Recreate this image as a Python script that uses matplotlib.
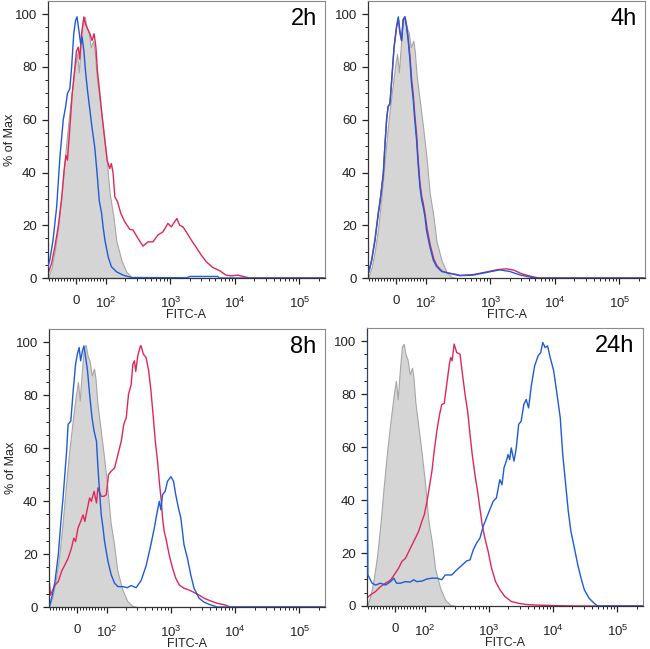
"""Four-panel FITC-A flow cytometry histograms (2h, 4h, 8h, 24h)."""

import matplotlib

matplotlib.use("Agg")

import matplotlib.pyplot as plt
from matplotlib.ticker import FixedLocator, NullFormatter

plt.rcParams["font.family"] = ["Liberation Sans", "DejaVu Sans"]
plt.rcParams["mathtext.fontset"] = "custom"
plt.rcParams["mathtext.rm"] = "Liberation Sans"
plt.rcParams["mathtext.it"] = "Liberation Sans:italic"

# unstained control, same in every panel
GRAY_X = [-92, -81, -70, -59, -48, -37, -26, -14, -3, 4, 10, 17, 24, 30, 36, 43, 50,
          58, 63, 69, 80, 91, 102, 115, 130, 146, 175, 209, 250, 300]
GRAY_Y = [0.4, 4, 10.5, 19, 31, 45, 58, 70, 80, 85, 78, 89, 98, 99, 95, 93, 87.5,
          90, 86, 77, 67, 57, 46, 32, 24, 14, 6.7, 2.3, 0.4, 0]

# 2h
H2_RED_X = [-92, -81, -70, -59, -48, -39, -33, -28, -20, -12, -3, 2, 8, 13, 19, 27, 32,
            39, 47, 54, 61, 67, 72, 80, 88, 97, 105, 115, 122, 130, 138, 152, 171, 197,
            235, 264, 316, 377, 450, 538, 643, 769, 918, 1035, 1166, 1268, 1394, 1570,
            1768, 2112, 2525, 3016, 3600, 4570, 5800, 7330, 8740, 11100, 14000, 17000,
            250000]
H2_RED_Y = [1.8, 5.6, 11.9, 19.4, 29.5, 41, 46.5, 44.7, 57, 70, 80, 86, 87.5, 83, 92.6,
            99, 96.4, 94.5, 92.6, 90, 92.6, 87.5, 78.7, 70, 61, 52, 44.7, 41.5, 43.4,
            39.6, 30.8, 28.9, 24.5, 21.3, 18.5, 18.2, 15, 12.1, 13.7, 13.7, 16.3, 17.5,
            20.7, 19.4, 21.3, 22.6, 20, 19.4, 17.5, 14.4, 11.6, 8.7, 6.2, 4, 2.8, 1.1,
            0.8, 1.1, 0.5, 0, 0]
H2_BLUE_X = [-94, -87, -76, -64, -53, -42, -34, -28, -20, -14, -7, -1, 4, 10, 16, 21,
             27, 32, 39, 47, 54, 63, 71, 78, 86, 91, 97, 109, 122, 146, 185, 250, 1800,
             2000, 5400, 5800, 250000]
H2_BLUE_Y = [3.7, 6.8, 14.4, 27, 46, 60, 65, 70, 71.8, 80, 92.6, 97.6, 99, 94, 88.8,
             91.3, 86, 78.7, 71, 63.6, 57, 49.7, 39.6, 29.5, 24.5, 19.4, 14.4, 8, 4.3,
             2.4, 1.1, 0.2, 0.1, 0.6, 0.6, 0, 0]

# 4h
H4_RED_X = [-90, -81, -70, -59, -51, -42, -37, -31, -26, -20, -14, -6, 2, 8, 13, 19, 24,
            30, 36, 41, 47, 52, 58, 63, 69, 74, 80, 86, 91, 97, 104, 117, 133, 149, 178,
            224, 303, 340, 540, 870, 1300, 1770, 2300, 3000, 4300, 5760, 250000]
H4_RED_Y = [2.3, 6.5, 14, 24, 30.5, 39.5, 49.5, 60, 65, 66, 75, 87.6, 95, 98.5, 93,
            90, 98, 99, 95.5, 91, 84, 76, 69.5, 62, 54.5, 45.5, 36.5, 31, 28.5, 24.5,
            19, 12.5, 7.2, 4.6, 2.6, 1.9, 1.3, 1, 1.3, 2.3, 3.2, 3.5, 3, 1.7, 0.6, 0, 0]
H4_BLUE_X = [-90, -81, -70, -59, -51, -42, -37, -31, -26, -20, -14, -6, 2, 8, 13, 19,
             24, 30, 36, 41, 47, 52, 58, 63, 69, 74, 80, 86, 91, 97, 102, 115, 130, 146,
             175, 220, 298, 335, 538, 866, 1390, 1990, 2840, 4050, 5140, 250000]
H4_BLUE_Y = [2.5, 6.9, 14.5, 24.6, 30.9, 39.7, 49.8, 60, 65, 66, 75, 87.6, 95, 99, 94,
             90, 97.7, 99, 95, 90, 82.5, 73.8, 67.5, 60, 52.3, 43.5, 34.7, 29.6, 27,
             23.3, 18.3, 12, 6.9, 4.4, 2.5, 1.9, 1.2, 0.9, 1.1, 2.1, 3.1, 2.5, 1.2, 0.4,
             0, 0]

# 8h
H8_RED_X = [-93, -88, -73, -62, -51, -40, -29, -18, -10, -4, 4, 13, 21, 27, 36, 43, 49,
            58, 66, 71, 82, 91, 99, 107, 118, 133, 150, 169, 185, 202, 219, 241, 256,
            271, 284, 305, 335, 344, 373, 411, 451, 490, 533, 572, 620, 660, 709, 741,
            787, 856, 940, 1060, 1190, 1350, 1600, 1920, 2290, 2750, 3300, 4150, 5280,
            6910, 8300, 250000]
H8_RED_Y = [11, 4.5, 8.3, 9.6, 13.4, 15.9, 18.4, 22.2, 26, 24.7, 29.8, 32.3, 34.8, 32.3,
            37.4, 41.2, 39.9, 43.7, 39.3, 45, 41.8, 41.8, 42.4, 50, 51.3, 52.5, 57.6,
            62.6, 69, 71.5, 80.3, 84.1, 91.7, 93, 89, 94.8, 98.6, 98.6, 95.5, 94.2,
            89.2, 81.6, 71.5, 62.6, 55, 47.5, 40, 33.6, 28.6, 24.8, 19.7, 14.7, 10.9,
            8.3, 7.1, 6.4, 5.5, 4.5, 3.3, 2.3, 1.4, 0.8, 0, 0]
H8_BLUE_X = [-90, -82, -73, -62, -53, -46, -40, -34, -29, -20, -12, -4, 2, 8, 13, 19, 24,
             30, 36, 43, 51, 58, 66, 71, 77, 82, 88, 93, 105, 118, 133, 150, 179, 209,
             241, 288, 344, 411, 478, 552, 600, 660, 700, 741, 815, 886, 1000, 1100,
             1190, 1310, 1430, 1600, 1810, 2040, 2290, 2750, 3300, 4150, 5280, 250000]
H8_BLUE_Y = [0.8, 4.5, 9.6, 19.7, 32.3, 41.2, 50, 58.9, 69, 70.2, 81.6, 91.7, 95.5, 98,
             93, 96.7, 98.6, 94.2, 89.2, 80.3, 71.5, 66.4, 62.6, 52.5, 42.4, 34.8, 29.8,
             24.8, 17.2, 12.1, 9, 7.7, 7.7, 7.3, 8.1, 7.3, 10, 15.5, 22.5, 29.8, 34.8,
             39.9, 36.7, 42.4, 43.7, 47.5, 49.2, 47.5, 42.4, 37.4, 33.6, 23.5, 18.4,
             12.1, 7.1, 3.3, 1.8, 0.8, 0, 0]

# 24h
H24_RED_X = [-92, -81, -64, -48, -31, -14, 2, 13, 24, 36, 47, 58, 69, 80, 91, 99, 109,
             118, 130, 141, 155, 171, 185, 202, 221, 243, 255, 268, 288, 316, 356, 377,
             426, 467, 509, 551, 607, 667, 725, 787, 867, 975, 1100, 1270, 1490, 1770,
             2230, 3030, 4040, 6500, 11800, 24000, 250000]
H24_RED_Y = [3.2, 4.2, 5.5, 7.3, 8.6, 9.8, 12.4, 14.3, 16.8, 18, 20.6, 23.1, 25.6, 28.2,
             32, 34.5, 39.5, 44.6, 50.9, 58.5, 66.1, 72.3, 76.1, 76.5, 83.7, 91.3, 93.8,
             92.6, 98.9, 95.7, 95.1, 90, 79.9, 73.6, 64.8, 57.2, 49.6, 43.3, 37, 30.7,
             25.6, 20.6, 14.3, 9.2, 6.1, 3.6, 1.7, 0.9, 0.5, 0.3, 0.1, 0, 0]
H24_BLUE_X = [-95, -90, -76, -64, -48, -31, -14, -3, 6, 19, 36, 52, 63, 74, 91, 109,
              130, 155, 185, 209, 264, 316, 377, 450, 509, 572, 643, 725, 815, 917, 1035,
              1165, 1310, 1480, 1600, 1720, 1870, 1990, 2110, 2230, 2460, 2670, 2910,
              3180, 3500, 3810, 4150, 4570, 5160, 5840, 6400, 6900, 7500, 8200, 9000,
              10200, 11500, 12900, 14100, 15500, 17200, 18900, 21400, 24200, 27200,
              30600, 36300, 43700, 49000, 250000]
H24_BLUE_Y = [110, 11.7, 8.6, 7.9, 8.6, 7.9, 9.2, 10.5, 8.6, 8.6, 9.2, 9, 9.9, 9.2, 9.4,
              10.2, 10.5, 10.5, 9.9, 11.7, 11.7, 13.6, 15.3, 17, 17.4, 21.2, 23.7, 25.6,
              30, 33.2, 36.4, 39.5, 40.8, 47.7, 45.8, 52.2, 54.7, 57.2, 55.3, 59.7, 54.7,
              59.7, 68.6, 69.8, 76.1, 78, 74.8, 83.1, 90.7, 94.5, 95.7, 99.5, 97.6, 98.2,
              93.8, 88.8, 79.9, 71.1, 57.2, 47.1, 35.8, 28.2, 21.9, 15.5, 10.5, 6.1, 2.9,
              1, 0, 0]

PANELS = [
    ("2h", H2_RED_X, H2_RED_Y, H2_BLUE_X, H2_BLUE_Y),
    ("4h", H4_RED_X, H4_RED_Y, H4_BLUE_X, H4_BLUE_Y),
    ("8h", H8_RED_X, H8_RED_Y, H8_BLUE_X, H8_BLUE_Y),
    ("24h", H24_RED_X, H24_RED_Y, H24_BLUE_X, H24_BLUE_Y),
]
# left, bottom, width, height in figure fraction
POSITIONS = [
    (0.0738, 0.5716, 0.4262, 0.4268),
    (0.5662, 0.5716, 0.4262, 0.4268),
    (0.0754, 0.0647, 0.4246, 0.4284),
    (0.5646, 0.0663, 0.4246, 0.4284),
]

RED = "#e0265a"
BLUE = "#1d5bd8"
FILL = "#d5d5d5"
FILL_EDGE = "#a6a6a6"

X_MAJOR = [0, 1e2, 1e3, 1e4, 1e5]
X_LABELS = ["0", "$10^2$", "$10^3$", "$10^4$", "$10^5$"]
X_MINOR = ([v for v in range(-90, 100, 10) if v != 0]
           + [m * 10 ** e for e in (2, 3, 4) for m in range(2, 10)] + [2e5])


def draw_panel(axis, label, red_x, red_y, blue_x, blue_y, show_ylabel):
    axis.set_xscale("symlog", linthresh=100, linscale=0.418)
    axis.fill_between(GRAY_X, GRAY_Y, 0, facecolor=FILL, edgecolor=FILL_EDGE,
                      linewidth=0.8, zorder=1)
    axis.plot(red_x, red_y, color=RED, linewidth=1.0, zorder=2)
    axis.plot(blue_x, blue_y, color=BLUE, linewidth=1.0, zorder=3)
    axis.set_xlim(-93, 250000)
    axis.set_ylim(0, 105)

    axis.xaxis.set_major_locator(FixedLocator(X_MAJOR))
    axis.set_xticklabels(X_LABELS)
    axis.xaxis.set_minor_locator(FixedLocator(X_MINOR))
    axis.xaxis.set_minor_formatter(NullFormatter())
    axis.set_yticks(range(0, 101, 20))
    axis.yaxis.set_minor_locator(FixedLocator(range(0, 101, 5)))

    axis.tick_params(axis="both", which="major", direction="out", length=4.5,
                     width=0.9, labelsize=9.5, colors="#222222")
    axis.tick_params(axis="both", which="minor", direction="out", length=2.5,
                     width=0.7, colors="#222222")
    axis.tick_params(axis="x", which="major", pad=8)
    for side in ("top", "right"):
        axis.spines[side].set_color("#8a8a8a")
        axis.spines[side].set_linewidth(0.8)
    for side in ("left", "bottom"):
        axis.spines[side].set_color("#333333")
        axis.spines[side].set_linewidth(0.9)

    axis.set_xlabel("FITC-A", fontsize=9, labelpad=-1, color="#222222")
    if show_ylabel:
        axis.set_ylabel("% of Max", fontsize=9, color="#222222")
        axis.yaxis.set_label_coords(-0.115, 0.5)
    axis.text(0.97, 0.975, label, transform=axis.transAxes, ha="right", va="top",
              fontsize=17, color="black")


figure = plt.figure(figsize=(6.5, 6.49), dpi=100)
for index, (panel, position) in enumerate(zip(PANELS, POSITIONS)):
    axis = figure.add_axes(position)
    draw_panel(axis, *panel, show_ylabel=index % 2 == 0)

figure.savefig("out.png", dpi=100)
